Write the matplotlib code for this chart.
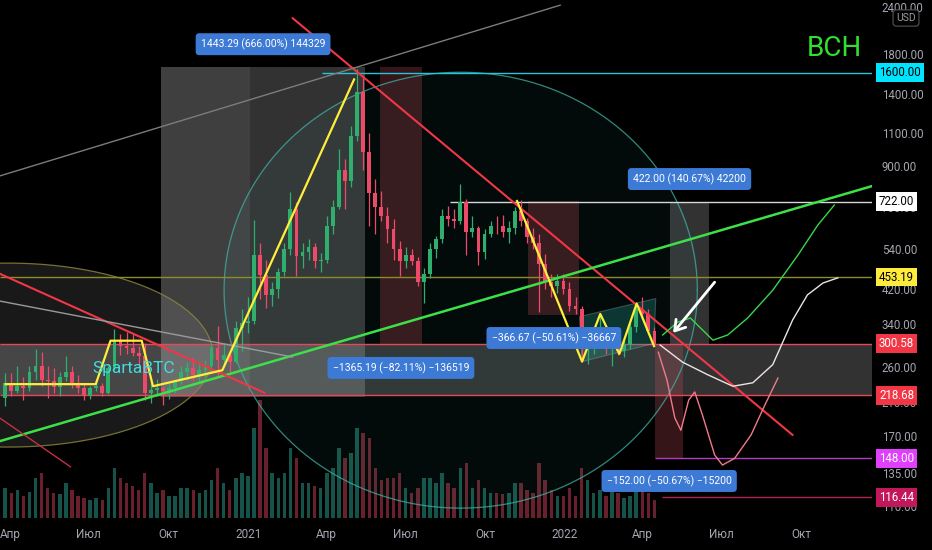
import numpy as np
import pandas as pd
import matplotlib
matplotlib.use("Agg")
import matplotlib.pyplot as plt
import matplotlib.dates as mdates
from matplotlib import font_manager
from matplotlib.ticker import NullLocator
from matplotlib.transforms import blended_transform_factory

plt.rcParams["font.family"] = ["Roboto", "DejaVu Sans"]
_names = {f.name for f in font_manager.fontManager.ttflist}
NARROW = "Liberation Sans Narrow" if "Liberation Sans Narrow" in _names else "Roboto"

# ---------------- weekly BCH/USD candles ----------------
week_start = "2020-03-23"
opens = [215, 235, 225, 232, 228, 252, 262, 240, 238, 230,
         245, 252, 235, 228, 218, 228, 232, 222, 258, 305,
         296, 292, 284, 278, 222, 226, 228, 224, 228, 238,
         252, 258, 248, 256, 262, 292, 272, 280, 268, 330,
         342, 345, 520, 460, 405, 420, 468, 540, 690, 515,
         530, 545, 500, 505, 620, 700, 880, 820, 1080, 1420,
         980, 760, 700, 660, 610, 540, 500, 520, 500, 440,
         462, 540, 572, 660, 650, 640, 720, 600, 612, 530,
         592, 622, 620, 600, 612, 680, 642, 580, 560, 490,
         440, 428, 442, 420, 380, 372, 290, 302, 312, 322,
         290, 298, 288, 298, 332, 372, 360, 325]
highs = [250, 250, 262, 245, 262, 290, 285, 262, 258, 252,
         278, 262, 248, 236, 232, 240, 236, 262, 328, 318,
         322, 318, 296, 302, 238, 242, 232, 236, 242, 262,
         268, 276, 268, 272, 302, 335, 302, 284, 345, 372,
         400, 645, 560, 505, 440, 478, 560, 765, 720, 560,
         575, 560, 525, 660, 730, 1000, 940, 1150, 1640, 1580,
         1100, 830, 770, 700, 650, 565, 545, 540, 512, 480,
         560, 585, 690, 705, 690, 805, 732, 660, 622, 610,
         642, 660, 665, 640, 700, 728, 652, 612, 590, 522,
         462, 462, 462, 440, 402, 380, 322, 330, 358, 338,
         312, 332, 310, 342, 378, 400, 372, 332]
lows = [205, 218, 222, 212, 225, 240, 232, 215, 222, 218,
        238, 228, 222, 212, 214, 224, 218, 220, 256, 280,
        282, 278, 262, 212, 208, 218, 206, 214, 222, 234,
        240, 238, 236, 244, 252, 244, 262, 252, 266, 288,
        320, 340, 395, 375, 378, 398, 455, 520, 455, 480,
        505, 480, 468, 495, 590, 690, 690, 790, 1050, 880,
        620, 590, 640, 560, 505, 455, 478, 488, 428, 386,
        450, 510, 560, 620, 615, 628, 520, 580, 488, 508,
        582, 592, 580, 560, 592, 620, 560, 540, 365, 422,
        402, 412, 408, 368, 360, 268, 265, 282, 302, 282,
        262, 280, 276, 290, 322, 350, 318, 296]
closes = [235, 225, 232, 228, 252, 262, 240, 238, 230, 245,
          252, 235, 228, 218, 228, 232, 222, 258, 305, 296,
          292, 284, 278, 222, 226, 228, 224, 228, 238, 252,
          258, 248, 256, 262, 292, 272, 280, 268, 330, 342,
          345, 520, 460, 405, 420, 468, 540, 690, 515, 530,
          545, 500, 505, 620, 700, 880, 820, 1080, 1420, 980,
          760, 700, 660, 610, 540, 500, 520, 500, 440, 462,
          540, 572, 660, 650, 640, 720, 600, 612, 530, 592,
          622, 620, 600, 612, 680, 642, 580, 560, 490, 440,
          428, 442, 420, 380, 372, 290, 302, 312, 322, 290,
          298, 288, 298, 332, 372, 360, 325, 300]
volumes = [30, 25, 28, 22, 26, 40, 45, 30, 25, 24,
           35, 28, 22, 20, 18, 20, 18, 30, 50, 40,
           35, 32, 28, 45, 35, 25, 28, 22, 22, 30,
           30, 28, 25, 28, 38, 50, 35, 28, 40, 45,
           42, 90, 118, 70, 45, 40, 45, 70, 60, 35,
           35, 32, 30, 45, 50, 70, 60, 65, 90, 85,
           80, 50, 38, 40, 40, 45, 30, 25, 30, 40,
           40, 35, 45, 35, 30, 50, 55, 30, 38, 30,
           25, 25, 24, 25, 35, 35, 28, 25, 55, 38,
           28, 22, 22, 30, 22, 50, 38, 25, 28, 22,
           28, 25, 20, 22, 30, 32, 25, 18]

# ---------------- axis labels ----------------
price_ticks = [110, 135, 170, 210, 260, 340, 420, 540, 700, 900, 1100, 1400, 1800, 2400]
month_ticks = ["2020-04-01", "2020-07-01", "2020-10-01", "2021-01-01", "2021-04-01",
               "2021-07-01", "2021-10-01", "2022-01-01", "2022-04-01", "2022-07-01",
               "2022-10-01"]
month_labels = ["Апр", "Июл", "Окт", "2021", "Апр", "Июл", "Окт", "2022", "Апр", "Июл", "Окт"]

# ---------------- horizontal levels ----------------
level_prices = [1600.00, 722.00, 453.19, 300.58, 218.68, 148.00, 116.44]
level_starts = ["2021-03-27", "2021-08-22", None, None, None, "2022-04-15", "2022-04-23"]
level_colors = ["#26c6da", "#d6d6d6", "#8c8c2c", "#e8465a", "#e8465a", "#b33cc4", "#b3204f"]
tag_colors = ["#00e5ff", "#ffffff", "#ffeb3b", "#f23645", "#f23645", "#e040fb", "#c2185b"]
tag_text = ["black", "black", "black", "white", "white", "white", "white"]

# ---------------- price-range measurements ----------------
measure_start = ["2020-09-22", "2021-06-02", "2021-11-20", "2022-05-03", "2022-04-15"]
measure_end = ["2021-05-16", "2021-07-20", "2022-01-18", "2022-06-16", "2022-05-18"]
measure_from = [216.71, 1662.65, 724.50, 300.00, 300.00]
measure_to = [1660.00, 297.46, 357.83, 722.00, 148.00]

# ---------------- trend lines ----------------
trend_dates = [("2021-02-21", "2022-09-21"), ("2020-03-20", "2022-12-24"),
               ("2020-03-20", "2021-01-20"), ("2020-03-20", "2020-06-10"),
               ("2020-03-20", "2021-02-21"), ("2020-03-20", "2021-12-27")]
trend_prices = [(2243, 170.9), (164.5, 798), (463, 221.6), (190, 140.4),
                (391, 276.7), (846, 2430)]
trend_colors = ["#f23645", "#3ee04a", "#f23645", "#c23045", "#9a9a9a", "#7c7c7c"]
trend_widths = [1.5, 1.8, 1.5, 1.0, 1.0, 1.0]

# ---------------- pattern sketches ----------------
yellow1_dates = ["2020-03-27", "2020-07-09", "2020-07-26", "2020-08-31", "2020-09-13",
                 "2020-12-02", "2021-05-03"]
yellow1_prices = [234, 234, 306, 306, 231, 255, 1536]
yellow2_dates = ["2021-11-07", "2022-01-21", "2022-02-11", "2022-03-05", "2022-03-25", "2022-04-14"]
yellow2_prices = [725, 269, 361, 282, 385, 296]
flag_dates = ["2022-01-18", "2022-04-16", "2022-04-14", "2022-01-21"]
flag_prices = [355, 397, 301, 269]

# ---------------- scenario paths (days after 2021-01-01) ----------------
green_days = [478, 495, 510, 524, 536, 553, 576, 605, 634, 657, 676]
green_prices = [317, 343, 352, 327, 307, 317, 352, 418, 519, 625, 707]
white_days = [475, 501, 530, 559, 582, 605, 628, 645, 663, 680]
white_prices = [298, 268, 248, 231, 236, 264, 348, 406, 437, 451]
pink_days = [473, 483, 492, 499, 508, 515, 524, 538, 547, 561, 580, 596, 611]
pink_prices = [285, 240, 190, 176, 212, 223, 193, 151, 142, 148, 171, 206, 243]

# ---------------- ellipses (centre date, centre price, half-width days, log half-height) ----
ellipse_centres = [("2021-09-03", 418), ("2020-03-30", 280)]
ellipse_axes = [(273, 1.3457), (236, 0.568)]

UP, DN = "#2fae6e", "#ec4a68"
VUP, VDN = "#1d6e63", "#8a2c3c"


def dn(s):
    return mdates.date2num(pd.Timestamp(s))


origin = dn("2021-01-01")
x_left, x_right = origin - 286.5, origin + 719.5

o = np.array(opens, float)
h = np.array(highs, float)
l = np.array(lows, float)
c = np.array(closes, float)
v = np.array(volumes, float)
dates = pd.date_range(week_start, periods=len(c), freq="7D")
xs = mdates.date2num(dates) + 3.5
up = c >= o
col = np.where(up, UP, DN)
vcol = np.where(up, VUP, VDN)

fig = plt.figure(figsize=(9.32, 5.5), dpi=100, facecolor="black")
pos = [0, 32 / 550, 872 / 932, 518 / 550]
axv = fig.add_axes(pos)
axv.set_facecolor("black")
ax = fig.add_axes(pos, sharex=axv)
ax.set_facecolor("none")

# volume panel
axv.bar(xs, v, width=4.0, color=vcol, alpha=0.75, linewidth=0)
axv.set_ylim(0, v.max() * 4.4)
axv.axis("off")

ax.set_yscale("log")
ax.set_ylim(102.4, 2508)
ax.set_xlim(x_left, x_right)
for s in ax.spines.values():
    s.set_visible(False)

# shaded zones
ax.axhspan(218.68, 300.58, fc="#ffffff", alpha=0.2, lw=0, zorder=1)
for (cd, cp), (a_days, b_ln) in zip(ellipse_centres, ellipse_axes):
    t = np.linspace(0, 2 * np.pi, 240)
    ex = dn(cd) + a_days * np.cos(t)
    ey = cp * np.exp(b_ln * np.sin(t))
    if cp > 300:
        ax.fill(ex, ey, fc="#26a69a", alpha=0.07, lw=0, zorder=1)
        ax.plot(ex, ey, color="#3fb3a6", lw=0.9, alpha=0.75, zorder=3)
    else:
        ax.fill(ex, ey, fc="#ffffff", alpha=0.1, lw=0, zorder=1)
        ax.plot(ex, ey, color="#8f8a3a", lw=0.9, alpha=0.8, zorder=3)

ax.fill_between([dn("2020-09-22"), dn("2021-01-03")], 216.71, 1660.0,
                fc="#ffffff", alpha=0.08, lw=0, zorder=1)

for s0, s1, p0, p1 in zip(measure_start, measure_end, measure_from, measure_to):
    x0, x1 = dn(s0), dn(s1)
    rising = p1 > p0
    fc = "#a8a8a8" if rising else "#c44d5c"
    al = 0.3 if rising else 0.28
    ax.fill_between([x0, x1], min(p0, p1), max(p0, p1), fc=fc, alpha=al, lw=0, zorder=1.5)
    diff = p1 - p0
    pct = diff / p0 * 100
    ticks = int(round(diff * 100))
    label = f"{diff:.2f} ({pct:.2f}%) {ticks}".replace("-", "\u2212")
    ax.annotate(label, xy=((x0 + x1) / 2, max(p0, p1) if rising else min(p0, p1)),
                xytext=(0, 16.3 if rising else -16.3), textcoords="offset points",
                ha="center", va="center", color="white", fontsize=7.5, zorder=9,
                bbox=dict(boxstyle="round,pad=0.5,rounding_size=0.35", fc="#3d7ad6", ec="none"))

# horizontal levels
for p, st, lc in zip(level_prices, level_starts, level_colors):
    xa = x_left if st is None else dn(st)
    ax.hlines(p, xa, x_right, color=lc, lw=1.0, zorder=3)

# trend lines
for (d0, d1), (p0, p1), tc, tw in zip(trend_dates, trend_prices, trend_colors, trend_widths):
    ax.plot([dn(d0), dn(d1)], [p0, p1], color=tc, lw=tw, zorder=5, solid_capstyle="round")

# flag channel
fx = [dn(s) for s in flag_dates]
ax.fill(fx, flag_prices, fc="#26a69a", alpha=0.28, ec="#b8c8c8", lw=0.8, zorder=3)

# candles
ax.vlines(xs, l, h, colors=col, lw=0.9, zorder=4)
body = np.maximum(np.abs(c - o), c * 0.004)
ax.bar(xs, body, bottom=np.minimum(o, c), width=4.4, color=col, lw=0, zorder=4.2)

# pattern sketches
ax.plot([dn(s) for s in yellow1_dates], yellow1_prices, color="#ffee3a", lw=1.6, zorder=6)
ax.plot([dn(s) for s in yellow2_dates], yellow2_prices, color="#ffee3a", lw=1.6, zorder=6)

# scenario paths
ax.plot(origin + np.array(green_days), green_prices, color="#3ad64a", lw=1.0, zorder=6)
ax.plot(origin + np.array(white_days), white_prices, color="#ece4e4", lw=1.0, zorder=6)
ax.plot(origin + np.array(pink_days), pink_prices, color="#f07a8a", lw=1.0, zorder=6)
ax.annotate("", xy=(dn("2022-05-04"), 317), xytext=(dn("2022-06-25"), 445),
            arrowprops=dict(arrowstyle="->,head_length=0.7,head_width=0.45",
                            color="white", lw=2.0), zorder=7)

# texts
ax.text(dn("2020-08-22"), 257, "SpartaBTC", color="#3fdde0", fontsize=12.5,
        ha="center", va="center", zorder=7)
ax.text(0.988, 0.907, "BCH", transform=ax.transAxes, color="#2fe02f", fontsize=20,
        family=[NARROW, "DejaVu Sans"], ha="right", va="center", zorder=7)

# price axis
ax.yaxis.tick_right()
ax.set_yticks(price_ticks)
ax.set_yticklabels([f"{t:.2f}" for t in price_ticks])
ax.yaxis.set_minor_locator(NullLocator())
ax.tick_params(axis="y", length=0, pad=7, colors="#a3a6af", labelsize=8.3)

ax.set_xticks([dn(s) for s in month_ticks])
ax.set_xticklabels(month_labels)
ax.xaxis.set_minor_locator(NullLocator())
ax.tick_params(axis="x", length=0, pad=7, colors="#a3a6af", labelsize=8.5)

trans = blended_transform_factory(ax.transAxes, ax.transData)
for p, bg, fg in zip(level_prices, tag_colors, tag_text):
    ax.text(1.008, p, f"{p:.2f}", transform=trans, ha="left", va="center", color=fg,
            fontsize=8.3, zorder=10, clip_on=False,
            bbox=dict(boxstyle="square,pad=0.25", fc=bg, ec="none"))

fig.text(906 / 932, 1 - 18 / 550, "USD", color="#9a9a9a", fontsize=7.5, ha="center",
         va="center", bbox=dict(boxstyle="round,pad=0.3,rounding_size=0.3", fc="black",
                                ec="#555555", lw=0.8))

fig.savefig("out.png", dpi=100, facecolor="black")
